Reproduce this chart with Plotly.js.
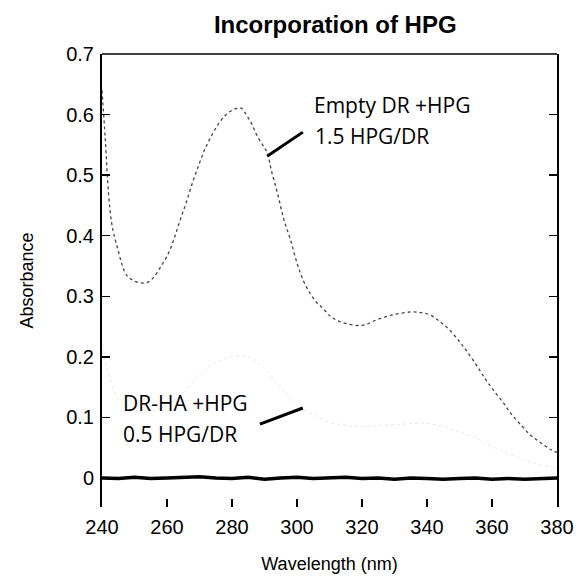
<!DOCTYPE html>
<html>
<head>
<meta charset="utf-8">
<script src="https://cdn.plot.ly/plotly-3.0.1.min.js"></script>
<style>html,body{margin:0;padding:0;background:#fff;}#chart{width:582px;height:577px;}</style>
</head>
<body>
<div id="chart"></div>
<script>
// Empty DR + HPG (1.5 HPG/DR)
const emptyWl = [240,241,242,243,244,245,246,247,248,250,252,254,256,258,260,262,264,266,268,270,272,274,276,278,280,282,283,284,286,288,290,291,292,294,296,298,300,302,304,306,308,310,312,315,320,325,330,335,338,341,344,347,350,352,355,357.5,360,363.5,366,369.5,372,375,378,380];
const emptyAbs = [0.64,0.56,0.47,0.42,0.395,0.375,0.355,0.34,0.332,0.325,0.322,0.323,0.332,0.348,0.366,0.392,0.425,0.456,0.49,0.52,0.547,0.568,0.586,0.599,0.607,0.611,0.61,0.603,0.585,0.562,0.545,0.535,0.51,0.47,0.426,0.393,0.355,0.325,0.305,0.29,0.28,0.268,0.261,0.255,0.252,0.262,0.27,0.274,0.273,0.269,0.258,0.244,0.225,0.211,0.188,0.167,0.148,0.124,0.105,0.084,0.07,0.058,0.047,0.042];

// DR-HA + HPG (0.5 HPG/DR) — very faint in the scan
const drhaWl = [240,245,250,255,260,265,270,275,280,285,290,295,300,305,310,315,320,330,340,345,350,355,360,370,380];
const drhaAbs = [0.22,0.13,0.11,0.11,0.12,0.14,0.17,0.19,0.2,0.2,0.18,0.15,0.12,0.105,0.092,0.087,0.085,0.088,0.09,0.085,0.076,0.066,0.052,0.03,0.015];

// Baseline
const baseWl = [240,245,250,255,260,265,270,275,280,285,290,295,300,305,310,315,320,325,330,335,340,345,350,355,360,365,370,375,380];
const baseAbs = [0.000,-0.001,0.001,-0.001,0.000,0.001,0.002,0.000,-0.001,0.001,-0.002,0.000,0.001,-0.001,0.000,0.001,-0.001,0.000,-0.002,0.000,-0.001,-0.002,-0.001,0.000,-0.002,-0.001,-0.002,-0.001,0.000];

const xTicks = [240,260,280,300,320,340,360,380];
const yTicks = [0,0.1,0.2,0.3,0.4,0.5,0.6,0.7];
const yTickText = ["0","0.1","0.2","0.3","0.4","0.5","0.6","0.7"];

const traces = [
  {x: drhaWl, y: drhaAbs, mode: 'lines', line: {color: '#e8e8e8', width: 1, dash: 'dot', shape: 'spline'}, hoverinfo: 'skip'},
  {x: emptyWl, y: emptyAbs, mode: 'lines', line: {color: '#444', width: 1.3, dash: 'dot', shape: 'spline'}},
  {x: baseWl, y: baseAbs, mode: 'lines', line: {color: '#000', width: 3.5}}
];

const tickFont = {family: 'Liberation Sans, Arial, sans-serif', size: 20, color: '#000'};
const annFont = {family: 'Open Sans, sans-serif', size: 21, color: '#000'};

const layout = {
  width: 582, height: 577,
  margin: {l: 102, r: 25, t: 54, b: 70},
  paper_bgcolor: '#fff', plot_bgcolor: '#fff',
  showlegend: false,
  title: {text: '<b>Incorporation of HPG</b>', x: 0.576, xanchor: 'center', y: 0.958, yanchor: 'middle',
          font: {family: 'Liberation Sans, Arial, sans-serif', size: 24, color: '#000'}},
  xaxis: {range: [240, 380], tickvals: xTicks, ticktext: xTicks.map(String), ticks: 'inside', ticklen: 8, tickwidth: 1.5, tickcolor: '#000',
          showline: false, showgrid: false, zeroline: false, mirror: false, tickfont: tickFont, ticklabelstandoff: 6,
          title: {text: 'Wavelength (nm)', font: {family: 'Liberation Sans, Arial, sans-serif', size: 18, color: '#000'}, standoff: 20}},
  yaxis: {range: [-0.048, 0.7], tickvals: yTicks, ticktext: yTickText, ticks: 'inside', ticklen: 8, tickwidth: 1.5, tickcolor: '#000',
          showline: true, linecolor: '#000', linewidth: 2, mirror: 'ticks', showgrid: false, zeroline: false, tickfont: tickFont, ticklabelstandoff: 2,
          title: {text: 'Absorbance', font: {family: 'Liberation Sans, Arial, sans-serif', size: 18, color: '#000'}, standoff: 28}},
  shapes: [
    {type: 'line', xref: 'paper', yref: 'paper', x0: 0, x1: 1, y0: 1, y1: 1, line: {color: '#000', width: 1.5}},
    {type: 'line', xref: 'x', yref: 'y', x0: 290.8, y0: 0.531, x1: 301.8, y1: 0.571, line: {color: '#000', width: 3}},
    {type: 'line', xref: 'x', yref: 'y', x0: 288.6, y0: 0.089, x1: 301.8, y1: 0.1155, line: {color: '#000', width: 3}}
  ],
  annotations: [
    {x: 304.6, y: 0.616, xref: 'x', yref: 'y', text: 'Empty DR +HPG', showarrow: false, xanchor: 'left', yanchor: 'middle', font: annFont},
    {x: 304.9, y: 0.564, xref: 'x', yref: 'y', text: '1.5 HPG/DR', showarrow: false, xanchor: 'left', yanchor: 'middle', font: annFont},
    {x: 245.8, y: 0.124, xref: 'x', yref: 'y', text: 'DR-HA +HPG', showarrow: false, xanchor: 'left', yanchor: 'middle', font: annFont},
    {x: 245.8, y: 0.073, xref: 'x', yref: 'y', text: '0.5 HPG/DR', showarrow: false, xanchor: 'left', yanchor: 'middle', font: annFont}
  ]
};

Plotly.newPlot('chart', traces, layout, {displayModeBar: false, staticPlot: true});
</script>
</body>
</html>
